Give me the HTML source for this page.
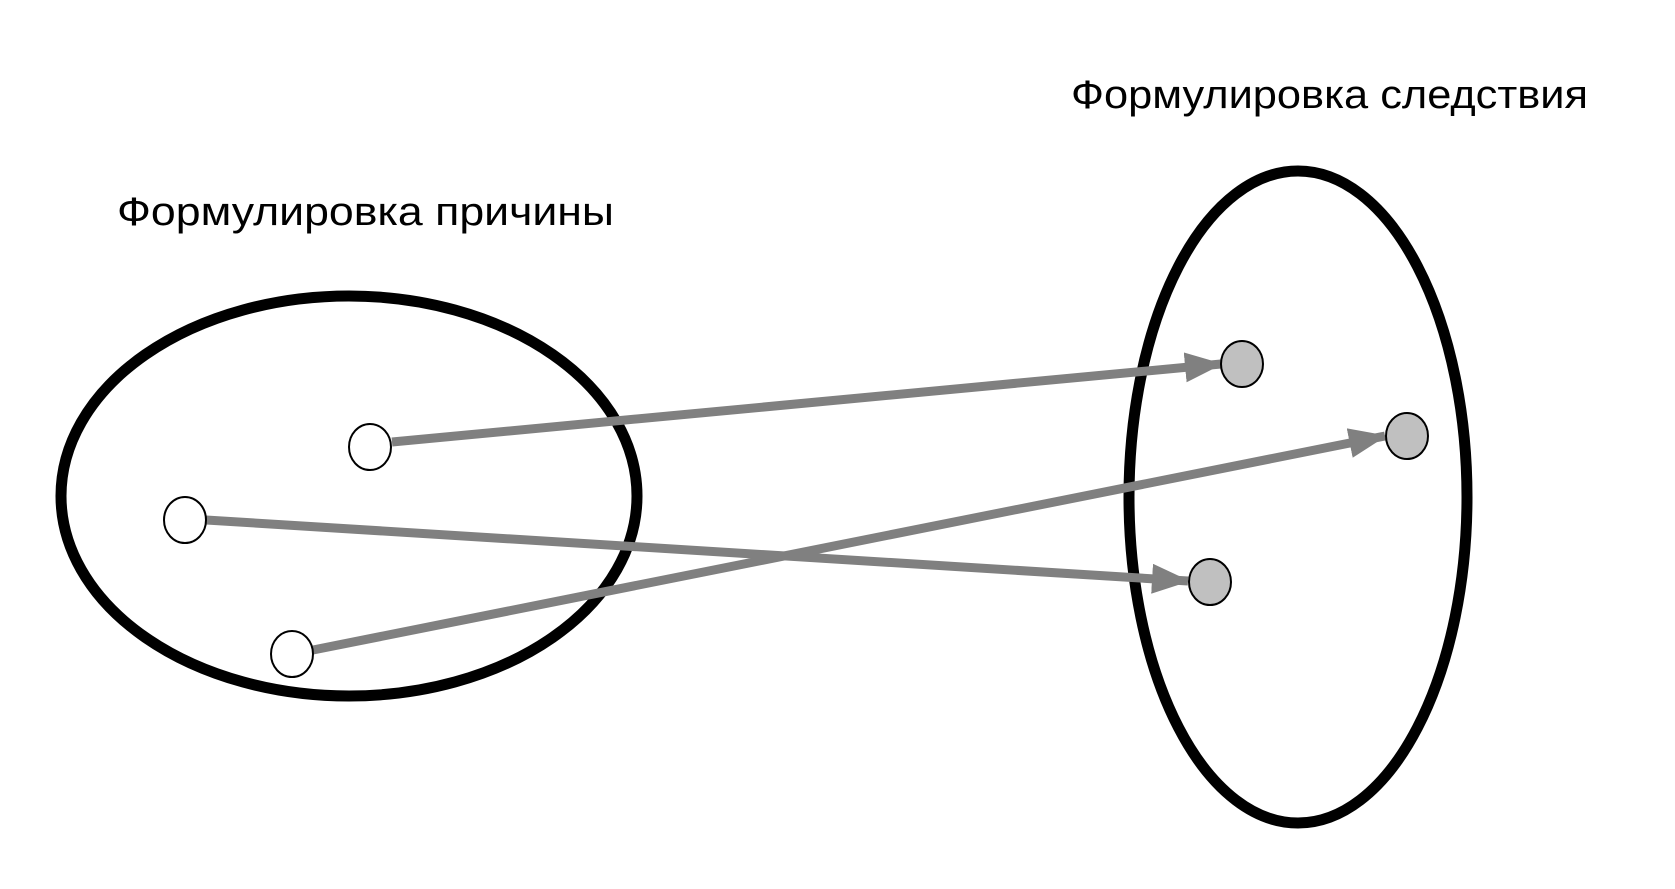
<!DOCTYPE html>
<html><head><meta charset="utf-8"><style>html,body{margin:0;padding:0;background:#fff;}svg{display:block}</style></head>
<body>
<svg width="1675" height="889" viewBox="0 0 1675 889" xmlns="http://www.w3.org/2000/svg">
<defs>
<marker id="ah" markerUnits="userSpaceOnUse" markerWidth="38" markerHeight="30" refX="36" refY="15" orient="auto">
<path d="M0,0 L38,15 L0,30 Z" fill="#808080"/>
</marker>
</defs>
<text x="117" y="225" font-family="Liberation Sans, sans-serif" font-size="40" textLength="497" lengthAdjust="spacingAndGlyphs">Формулировка причины</text>
<text x="1071" y="108" font-family="Liberation Sans, sans-serif" font-size="40" textLength="517" lengthAdjust="spacingAndGlyphs">Формулировка следствия</text>
<ellipse cx="349" cy="496" rx="288" ry="200" fill="none" stroke="#000" stroke-width="11"/>
<ellipse cx="1298" cy="497" rx="169" ry="326" fill="none" stroke="#000" stroke-width="11"/>
<g stroke="#808080" stroke-width="9" fill="none">
<line x1="392" y1="442" x2="1221" y2="364" marker-end="url(#ah)"/>
<line x1="206" y1="520" x2="1188" y2="581" marker-end="url(#ah)"/>
<line x1="313" y1="650" x2="1385" y2="436" marker-end="url(#ah)"/>
</g>
<g stroke="#000" stroke-width="2">
<ellipse cx="370" cy="447" rx="21" ry="23" fill="#fff"/>
<ellipse cx="185" cy="520" rx="21" ry="23" fill="#fff"/>
<ellipse cx="292" cy="654" rx="21" ry="23" fill="#fff"/>
<ellipse cx="1242" cy="364" rx="21" ry="23" fill="#c0c0c0"/>
<ellipse cx="1407" cy="436" rx="21" ry="23" fill="#c0c0c0"/>
<ellipse cx="1210" cy="582" rx="21" ry="23" fill="#c0c0c0"/>
</g>
</svg>
</body></html>
